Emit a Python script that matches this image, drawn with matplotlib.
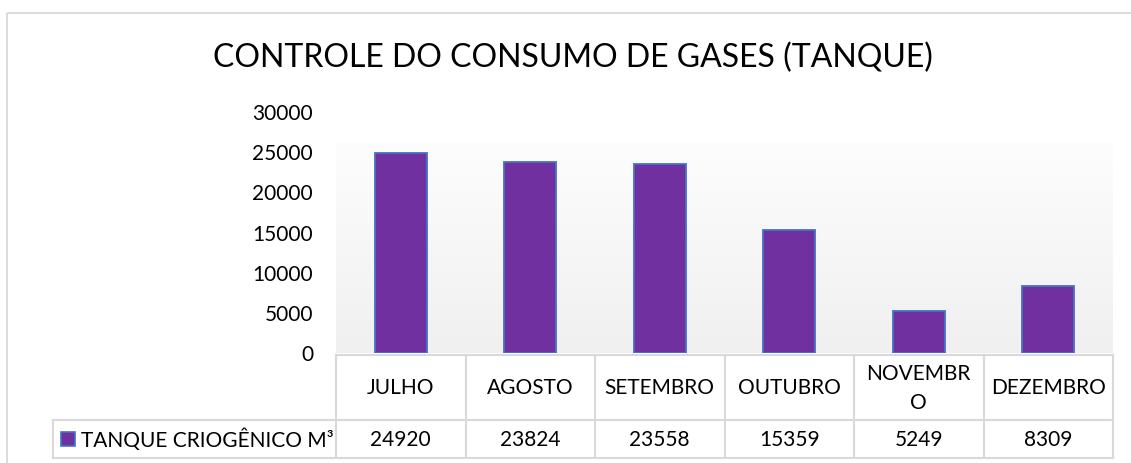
import numpy as np
import matplotlib
matplotlib.use("Agg")
import matplotlib.pyplot as plt
from matplotlib.patches import Rectangle

# Monthly consumption of the cryogenic tank (m³)
months = ["JULHO", "AGOSTO", "SETEMBRO", "OUTUBRO", "NOVEMBR\nO", "DEZEMBRO"]
consumo = [24920, 23824, 23558, 15359, 5249, 8309]
series_name = "TANQUE CRIOGÊNICO M³"
title = "CONTROLE DO CONSUMO DE GASES (TANQUE)"
y_ticks = [0, 5000, 10000, 15000, 20000, 25000, 30000]

plt.rcParams["font.family"] = ["Lato", "DejaVu Sans"]

W, H = 1131, 463
fig = plt.figure(figsize=(W / 100, H / 100), dpi=100)
fig.patch.set_facecolor("white")

def fx(px):
    return px / W

def fy(py):
    return 1 - py / H

# Plot area geometry (pixels)
left, right = 336, 1113
top, bottom = 112, 353
ax = fig.add_axes([fx(left), fy(bottom), fx(right - left), (bottom - top) / H])
n = len(months)
ax.set_xlim(-0.5, n - 0.5)
ax.set_ylim(0, 30000)

# Soft vertical gradient fill behind the bars
grad_top_px = 143
grad_top_val = (bottom - grad_top_px) / (bottom - top) * 30000
grad = np.linspace(0, 1, 256).reshape(-1, 1)
c0 = np.array([0.992, 0.992, 0.992])
c1 = np.array([0.941, 0.941, 0.941])
img = c0 + (c1 - c0) * grad
ax.imshow(img.reshape(256, 1, 3), extent=(-0.5, n - 0.5, 0, grad_top_val),
          aspect="auto", origin="upper", zorder=0, interpolation="bilinear")

x = np.arange(n)
ax.bar(x, consumo, width=0.4, color="#7030A0", edgecolor="#4472C4",
       linewidth=1.3, zorder=2)

for s in ax.spines.values():
    s.set_visible(False)
ax.set_xticks([])
ax.set_yticks(y_ticks)
ax.set_yticklabels([str(v) for v in y_ticks], fontsize=15)
ax.tick_params(axis="y", length=0, pad=16.5)
ax.set_facecolor("none")

# Overlay in pixel coordinates for the frame, title and data table
ov = fig.add_axes([0, 0, 1, 1], zorder=5)
ov.set_xlim(0, W)
ov.set_ylim(H, 0)
ov.axis("off")
ov.patch.set_alpha(0)

ov.add_patch(Rectangle((7, 13), W + 20, H + 20, fill=False,
                       edgecolor="#d9d9d9", linewidth=1.3))

ov.text(573, 58, title, fontsize=23, ha="center", va="center", color="#000000")

grid_c = "#d9d9d9"
lw = 1.5
col_w = (right - left) / n
row_top, row_mid, row_bot = 355, 420, 458
legend_left = 53

# Horizontal table lines
ov.plot([left, right], [row_top, row_top], color=grid_c, lw=lw)
ov.plot([legend_left, right], [row_mid, row_mid], color=grid_c, lw=lw)
ov.plot([legend_left, right], [row_bot, row_bot], color=grid_c, lw=lw)
# Vertical table lines
for k in range(n + 1):
    xx = left + k * col_w
    ov.plot([xx, xx], [row_top, row_bot], color=grid_c, lw=lw)
ov.plot([legend_left, legend_left], [row_mid, row_bot], color=grid_c, lw=lw)

# Header and value cells
for i, (m, v) in enumerate(zip(months, consumo)):
    cx = left + (i + 0.5) * col_w
    ov.text(cx, (row_top + row_mid) / 2 + 1, m, fontsize=15, ha="center",
            va="center", linespacing=1.55, color="#000000")
    ov.text(cx, (row_mid + row_bot) / 2 + 1, str(v), fontsize=15,
            ha="center", va="center", color="#000000")

# Series key in the table
ov.add_patch(Rectangle((61, 432), 14, 14, facecolor="#7030A0",
                       edgecolor="#4472C4", linewidth=1.2))
ov.text(81, (row_mid + row_bot) / 2 + 1, series_name, fontsize=15,
        ha="left", va="center", color="#000000")

fig.savefig("out.png", dpi=100, facecolor="white")
